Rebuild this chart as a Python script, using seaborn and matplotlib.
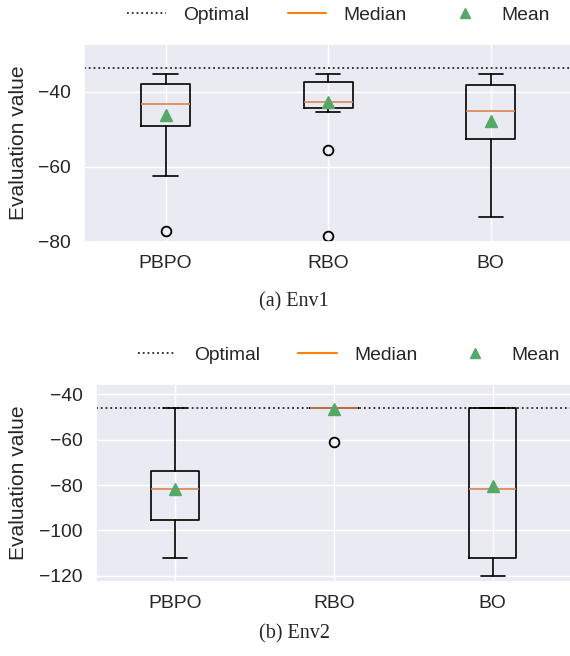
#!/usr/bin/env python3

import matplotlib

matplotlib.use("Agg")
import matplotlib.pyplot as plt
from matplotlib.lines import Line2D
import seaborn as sns

# box statistics
methods = ["PBPO", "RBO", "BO"]

env1_q1 = [-49.2, -44.3, -52.6]
env1_q3 = [-37.9, -37.4, -38.2]
env1_med = [-43.3, -42.7, -45.3]
env1_mean = [-46.2, -42.9, -47.9]
env1_whislo = [-62.4, -45.5, -73.4]
env1_whishi = [-35.4, -35.4, -35.4]
env1_fliers = [[-77.3], [-55.6, -78.6], []]
env1_optimal = -33.7

env2_q1 = [-95.3, -46.0, -112.3]
env2_q3 = [-73.8, -46.0, -46.0]
env2_med = [-81.9, -46.0, -81.9]
env2_mean = [-81.6, -46.7, -80.6]
env2_whislo = [-112.1, -46.0, -120.1]
env2_whishi = [-46.0, -46.0, -46.0]
env2_fliers = [[], [-61.0], []]
env2_optimal = -46.0

MEDIAN_COLOR = "#dd8452"
MEAN_COLOR = "#55a868"

sns.set_theme(style="darkgrid", context="notebook", font_scale=1.26)
plt.rcParams["font.family"] = ["Liberation Sans", "DejaVu Sans"]


def make_stats(q1, q3, med, mean, whislo, whishi, fliers):
    stats = []
    for i, name in enumerate(methods):
        stats.append(
            {
                "label": name,
                "q1": q1[i],
                "q3": q3[i],
                "med": med[i],
                "mean": mean[i],
                "whislo": whislo[i],
                "whishi": whishi[i],
                "fliers": fliers[i],
            }
        )
    return stats


def draw(ax, stats, optimal, ylim, yticks):
    ax.axhline(optimal, color="0.15", linestyle=":", linewidth=1.3, zorder=1)
    ax.bxp(
        stats,
        positions=[1, 2, 3],
        widths=0.3,
        showmeans=True,
        boxprops={"color": "black", "linewidth": 1.2},
        whiskerprops={"color": "black", "linewidth": 1.2},
        capprops={"color": "black", "linewidth": 1.2},
        medianprops={"color": MEDIAN_COLOR, "linewidth": 1.2},
        meanprops={
            "marker": "^",
            "markerfacecolor": MEAN_COLOR,
            "markeredgecolor": MEAN_COLOR,
            "markersize": 8,
        },
        flierprops={
            "marker": "o",
            "markerfacecolor": "none",
            "markeredgecolor": "black",
            "markersize": 7,
            "markeredgewidth": 1.3,
        },
    )
    ax.set_xlim(0.5, 3.5)
    ax.set_ylim(*ylim)
    ax.set_yticks(yticks)
    ax.set_xticks([1, 2, 3])
    ax.set_xticklabels(methods)
    ax.set_ylabel("Evaluation value")


def add_legend(fig, x, y):
    handles = [
        Line2D([], [], color="0.15", linestyle=":", linewidth=1.3),
        Line2D([], [], color="#ff7f0e", linewidth=1.5),
        Line2D([], [], color=MEAN_COLOR, marker="^", linestyle="none", markersize=6.5),
    ]
    fig.legend(
        handles,
        ["Optimal", "Median", "Mean"],
        loc="center",
        bbox_to_anchor=(x, y),
        ncol=3,
        frameon=False,
        handlelength=2.0,
        handletextpad=0.9,
        columnspacing=2.0,
    )


W, H = 570, 656
fig = plt.figure(figsize=(W / 100, H / 100), dpi=100)

ax1 = fig.add_axes([84.3 / W, 1 - 241.7 / H, (572 - 84.3) / W, 197.7 / H])
ax2 = fig.add_axes([95.7 / W, 1 - 581.7 / H, (572 - 95.7) / W, 197.7 / H])

draw(
    ax1,
    make_stats(env1_q1, env1_q3, env1_med, env1_mean, env1_whislo, env1_whishi, env1_fliers),
    env1_optimal,
    (-80.05, -27.3),
    [-80, -60, -40],
)
draw(
    ax2,
    make_stats(env2_q1, env2_q3, env2_med, env2_mean, env2_whislo, env2_whishi, env2_fliers),
    env2_optimal,
    (-122.6, -35.5),
    [-120, -100, -80, -60, -40],
)
ax1.yaxis.set_label_coords((28 - 84.3) / 487.7, 0.5)
ax2.yaxis.set_label_coords((28 - 95.7) / 476.3, 0.5)

add_legend(fig, 338.4 / W, 1 - 15 / H)
add_legend(fig, 349 / W, 1 - 355 / H)

fig.text(293.5 / W, 1 - 301.7 / H, "(a) Env1", ha="center", va="center",
         family="Liberation Serif", fontsize=14.5)
fig.text(294.5 / W, 1 - 634 / H, "(b) Env2", ha="center", va="center",
         family="Liberation Serif", fontsize=14.5)

fig.savefig("out.png", dpi=100)
